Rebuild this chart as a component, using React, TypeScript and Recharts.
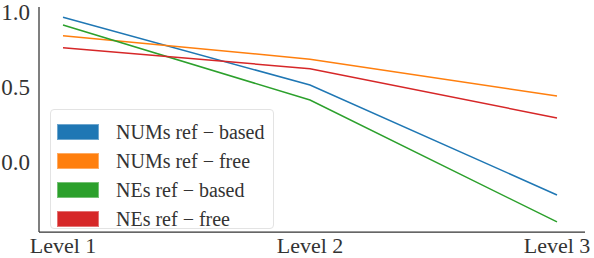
import React from "react";
import { LineChart, Line, XAxis, YAxis } from "recharts";

const levels = ["Level 1", "Level 2", "Level 3"];
const numsRefBased = [0.965, 0.513, -0.22];
const numsRefFree = [0.842, 0.685, 0.44];
const nesRefBased = [0.913, 0.413, -0.4];
const nesRefFree = [0.762, 0.622, 0.293];
const yTicks = [0, 0.5, 1.0];

const series = [
  { key: "numsBased", name: "NUMs ref − based", color: "#1f77b4", values: numsRefBased },
  { key: "numsFree", name: "NUMs ref − free", color: "#ff7f0e", values: numsRefFree },
  { key: "nesBased", name: "NEs ref − based", color: "#2ca02c", values: nesRefBased },
  { key: "nesFree", name: "NEs ref − free", color: "#d62728", values: nesRefFree },
];

const data = levels.map((level, i) => {
  const row: Record<string, string | number> = { level };
  series.forEach((s) => {
    row[s.key] = s.values[i];
  });
  return row;
});

const FONT = '"Liberation Serif", "DejaVu Serif", serif';

// y tick labels, right-aligned a few px left of the axis line
const YTick = (props: any) => {
  const { y, payload } = props;
  return (
    <text
      x={30}
      y={y}
      dy="0.35em"
      textAnchor="end"
      fontFamily={FONT}
      fontSize={23}
      fill="#333"
    >
      {Number(payload.value).toFixed(1)}
    </text>
  );
};

const LegendBox = () => (
  <div
    style={{
      position: "absolute",
      left: 50,
      top: 109,
      width: 224,
      height: 120,
      boxSizing: "border-box",
      border: "1px solid #e3e3e3",
      borderRadius: 4,
      background: "rgba(255,255,255,0.85)",
      padding: "7px 0 0 6px",
      fontFamily: FONT,
      fontSize: 20,
      color: "#333",
    }}
  >
    {series.map((s) => (
      <div key={s.key} style={{ display: "flex", alignItems: "center", height: 29 }}>
        <div
          style={{
            width: 42,
            height: 16,
            background: s.color,
            boxSizing: "border-box",
            border: "1px solid rgba(255,255,255,0.35)",
            marginRight: 17,
          }}
        />
        <span style={{ lineHeight: "20px" }}>{s.name}</span>
      </div>
    ))}
  </div>
);

export default function App() {
  return (
    <div style={{ position: "relative", width: 594, height: 258, background: "#fff" }}>
      <style>{"body { margin: 0; }"}</style>
      <LineChart
        width={594}
        height={258}
        data={data}
        margin={{ top: 7, right: 9, bottom: 0, left: 0 }}
      >
        <XAxis
          dataKey="level"
          padding={{ left: 24, right: 28 }}
          height={26}
          tickLine={false}
          tickSize={3}
          axisLine={{ stroke: "#333", strokeWidth: 1.25 }}
          tick={{ fontFamily: FONT, fontSize: 22, fill: "#333" }}
          interval={0}
        />
        <YAxis
          domain={[-0.467, 1.033]}
          ticks={yTicks}
          width={39}
          tickLine={false}
          axisLine={{ stroke: "#333", strokeWidth: 1.25 }}
          tick={<YTick />}
          allowDataOverflow
        />
        {series.map((s) => (
          <Line
            key={s.key}
            type="linear"
            dataKey={s.key}
            name={s.name}
            stroke={s.color}
            strokeWidth={1.5}
            dot={false}
            isAnimationActive={false}
          />
        ))}
      </LineChart>
      <LegendBox />
    </div>
  );
}
